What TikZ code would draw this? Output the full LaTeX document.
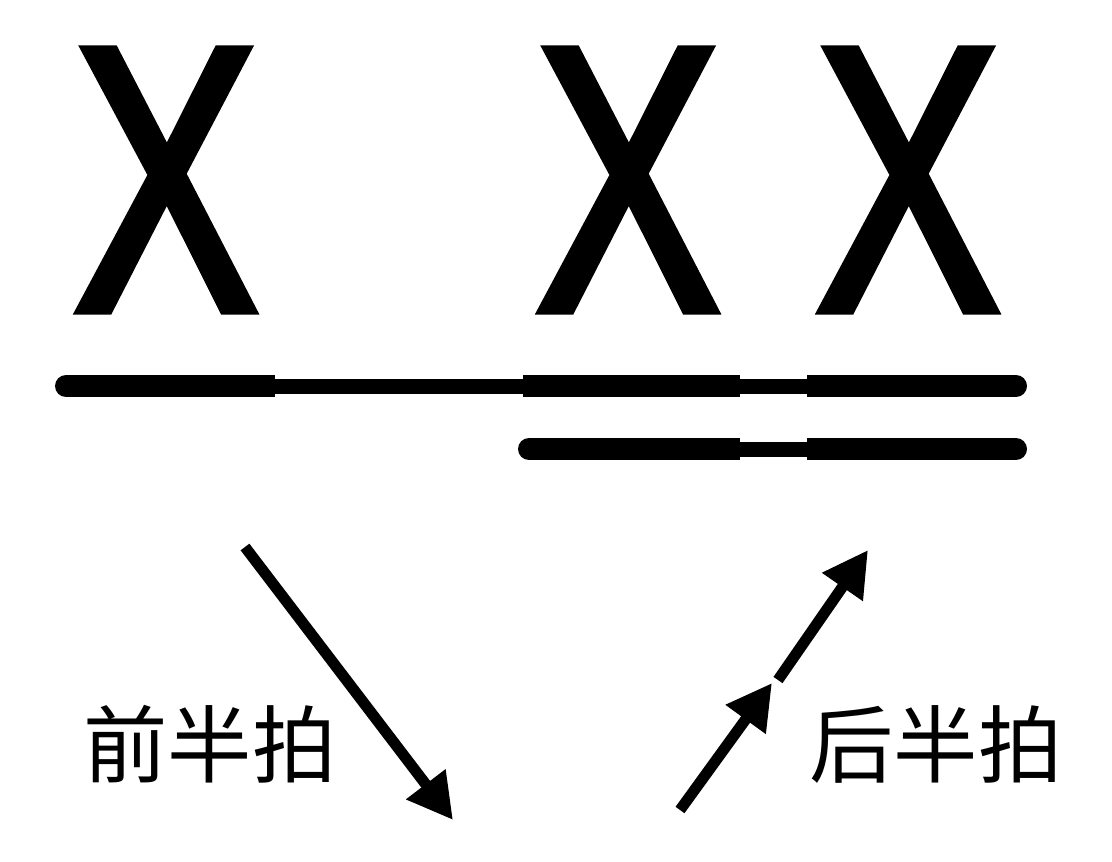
\documentclass[tikz,border=0pt]{standalone}
\usepackage{fontspec}
\setmainfont{Liberation Sans}
\newfontfamily\notefont[FakeBold=3]{Liberation Sans}
\newfontfamily\cjk{Noto Sans CJK SC}
\usetikzlibrary{arrows.meta}
\begin{document}
\begin{tikzpicture}[x=0.03cm, y=-0.03cm,
        bigx/.style={inner sep=0, xscale=0.73, font=\notefont\fontsize{320}{320}\selectfont},
        pailabel/.style={inner sep=0, font=\cjk\fontsize{72}{72}\selectfont},
        fatbeam/.style={line width=0.66cm},
        slimbeam/.style={line width=0.45cm},
        pai/.style={line width=0.33cm, -{Triangle[length=1.35cm, width=1.4cm]}}]

                \useasboundingbox (0, 0) rectangle (1112, 861);

                 % the three notes
                 \node[bigx] (xa) at (166, 180){X};
                 \node[bigx] (xb) at (628, 180){X};
                 \node[bigx] (xc) at (908, 180){X};

                 % upper beam
                    \draw[slimbeam] (66, 386) to (1016, 386);
                    \draw[fatbeam, line cap=round] (66, 386) to (264, 386);
                    \draw[fatbeam] (66, 386) to (275, 386);
                    \draw[fatbeam] (523, 386) to (740, 386);
                    \draw[fatbeam] (807, 386) to (1016, 386);
                    \draw[fatbeam, line cap=round] (818, 386) to (1016, 386);

                 % lower beam
                    \draw[slimbeam] (529, 449) to (1016, 449);
                    \draw[fatbeam, line cap=round] (529, 449) to (729, 449);
                    \draw[fatbeam] (529, 449) to (740, 449);
                    \draw[fatbeam] (807, 449) to (1016, 449);
                    \draw[fatbeam, line cap=round] (818, 449) to (1016, 449);

                 % down and up strokes
                 \coordinate (downa) at (245, 547);
                 \coordinate (downb) at (453, 820);
                    \draw[pai] (downa) to (downb);
                 \coordinate (upa) at (680, 810);
                 \coordinate (upb) at (772, 683);
                 \coordinate (upc) at (778, 680);
                 \coordinate (upd) at (868, 550);
                    \draw[pai] (upa) to (upb);
                    \draw[pai] (upc) to (upd);

                 \node[pailabel] (qian) at (210, 744){前半拍};
                 \node[pailabel] (hou) at (936, 744){后半拍};

\end{tikzpicture}
\end{document}
